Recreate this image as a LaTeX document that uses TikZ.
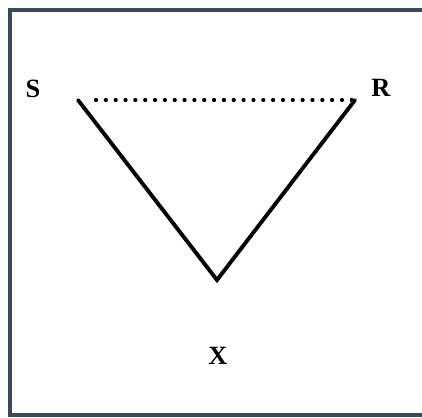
\documentclass[tikz,border=0pt]{standalone}
\usepackage{fontspec}
\setmainfont{Liberation Serif}
\usetikzlibrary{positioning}
\definecolor{framecol}{RGB}{58,72,88}

\begin{document}
\begin{tikzpicture}[
  x=0.02cm, y=-0.02cm,
  every node/.style={font=\bfseries\fontsize{15}{17}\selectfont},
  %% Label style
  plabel/.style={inner sep=0pt},
  %% Edge styles
  sedge/.style={draw=black, line width=2.2pt, line cap=round},
  dedge/.style={draw=black, line width=2.4pt, line cap=round,
    dash pattern=on 0pt off 5.6pt},
]
\useasboundingbox (0,0) rectangle (422,417);
\clip (0,0) rectangle (422,417);

%% Frame
\draw[framecol, line width=2.8pt] (10,10) rectangle (440,415);

%% Corner points
\coordinate (sEnd) at (78,100);
\coordinate (dStart) at (96,100);
\coordinate (rEnd) at (355,100);
\coordinate (xTip) at (217,280);

%% Labels
\node[plabel] (S) at (33,89) {S};
\node[plabel] (R) at (381,88) {R};
\node[plabel] (X) at (218,356) {X};

%% Edges
\draw[sedge] (sEnd) -- (xTip) -- (rEnd);
\draw[dedge] (dStart) -- (rEnd);

\end{tikzpicture}
\end{document}
